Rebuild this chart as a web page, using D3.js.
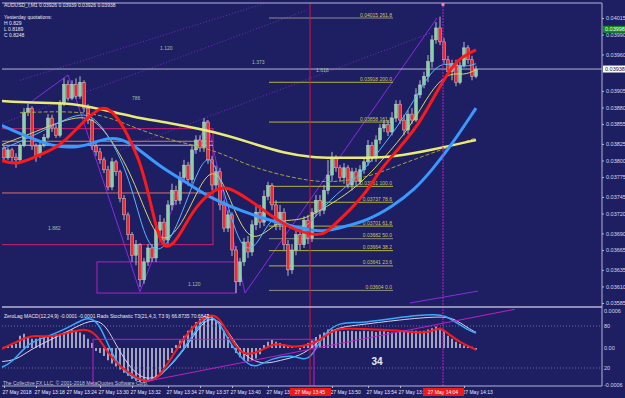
<!DOCTYPE html>
<html>
<head>
<meta charset="utf-8">
<script src="https://cdn.jsdelivr.net/npm/d3@7"></script>
<style>
body { margin: 0; background: #1e1e62; }
svg { display: block; font-family: "Liberation Sans", Arial, sans-serif; }
</style>
</head>
<body>
<div id="chart"></div>
<script>
// M1 candles, [open, high, low, close] in 1e-5 price units
const candles = [
  [3819,3822,3798,3804],[3804,3819,3801,3816],[3816,3819,3796,3805],[3805,3811,3789,3801],
  [3801,3826,3798,3823],[3823,3879,3820,3873],[3873,3885,3867,3879],[3879,3882,3816,3822],
  [3822,3826,3798,3808],[3808,3831,3804,3823],[3823,3840,3820,3835],[3835,3870,3832,3864],
  [3864,3869,3843,3849],[3849,3854,3834,3838],[3838,3891,3835,3887],[3887,3924,3882,3915],
  [3915,3921,3890,3894],[3894,3921,3891,3915],[3915,3924,3893,3897],[3897,3927,3893,3918],
  [3918,3921,3873,3879],[3879,3885,3855,3861],[3861,3864,3816,3822],[3822,3828,3807,3813],
  [3813,3819,3795,3801],[3801,3805,3781,3786],[3786,3792,3755,3760],[3760,3804,3755,3798],
  [3798,3801,3777,3783],[3783,3786,3737,3743],[3743,3748,3710,3718],[3718,3722,3680,3688],
  [3688,3692,3647,3657],[3657,3680,3642,3673],[3673,3675,3609,3620],[3620,3653,3614,3647],
  [3647,3674,3641,3668],[3668,3674,3647,3653],[3653,3701,3647,3695],[3695,3718,3686,3707],
  [3707,3713,3673,3680],[3680,3740,3674,3733],[3733,3765,3725,3755],[3755,3762,3733,3740],
  [3740,3783,3734,3774],[3774,3801,3768,3793],[3793,3798,3762,3771],[3771,3822,3765,3816],
  [3816,3838,3810,3831],[3831,3838,3813,3819],[3819,3864,3813,3858],[3858,3861,3795,3801],
  [3801,3807,3755,3763],[3763,3792,3755,3783],[3783,3789,3725,3733],[3733,3740,3692,3698],
  [3698,3725,3692,3718],[3718,3722,3656,3665],[3665,3671,3600,3617],[3617,3653,3611,3647],
  [3647,3683,3641,3677],[3677,3686,3653,3662],[3662,3710,3656,3703],[3703,3731,3695,3722],
  [3722,3733,3698,3707],[3707,3755,3701,3746],[3746,3768,3740,3762],[3762,3766,3725,3733],
  [3733,3740,3695,3703],[3703,3733,3695,3722],[3722,3728,3665,3673],[3673,3680,3626,3635],
  [3635,3674,3629,3665],[3665,3698,3657,3688],[3688,3695,3665,3673],[3673,3716,3668,3710],
  [3710,3718,3674,3683],[3683,3728,3677,3722],[3722,3748,3716,3740],[3740,3748,3716,3725],
  [3725,3763,3719,3755],[3755,3801,3749,3778],[3778,3813,3768,3804],[3804,3808,3783,3789],
  [3789,3793,3768,3774],[3774,3796,3765,3789],[3789,3793,3758,3763],[3763,3789,3755,3783],
  [3783,3789,3762,3768],[3768,3793,3763,3786],[3786,3804,3780,3798],[3798,3831,3792,3823],
  [3823,3828,3798,3804],[3804,3838,3798,3831],[3831,3855,3825,3849],[3849,3861,3843,3854],
  [3854,3861,3837,3843],[3843,3873,3838,3864],[3864,3891,3858,3885],[3885,3891,3855,3861],
  [3861,3869,3838,3846],[3846,3876,3840,3870],[3870,3879,3855,3861],[3861,3909,3858,3899],
  [3899,3921,3894,3914],[3914,3934,3909,3927],[3927,3959,3918,3949],[3949,3989,3940,3982],
  [3982,4009,3976,4000],[4000,4017,3974,3979],[3979,3985,3946,3952],[3952,3958,3927,3934],
  [3934,3952,3921,3946],[3946,3952,3912,3918],[3918,3949,3915,3943],[3943,3979,3940,3970],
  [3970,3974,3946,3952],[3952,3958,3921,3927],[3927,3943,3924,3938]
];

// moving averages, [bar index, price in 1e-5]
const maSlowYellow = [[-1,3890],[7,3887],[16,3887],[24,3878],[32,3866],[41,3857],[53,3843],[62,3826],[70,3811],[77,3805],[82,3804],[91,3804],[97,3805],[107,3816],[118,3831]];
const maDashed = [[4,3872],[22,3876],[32,3851],[41,3831],[53,3816],[61.5,3790],[74,3771],[82,3766],[91,3775],[97,3789],[109,3816],[118,3834]];
const maBlue = [[-1,3854],[11.5,3820],[19,3819],[24,3831],[28,3835],[32,3826],[39,3790],[46,3766],[51,3745],[61.5,3718],[74,3697],[80,3692],[85,3700],[91,3710],[97,3730],[103,3758],[107,3786],[111.5,3820],[118,3879]];
const maRed = [[-1,3801],[3,3793],[7,3804],[14,3820],[19,3854],[24,3881],[26.5,3879],[30,3851],[34,3801],[36.5,3740],[38.5,3688],[40,3668],[42,3672],[44,3688],[48,3733],[53,3758],[56,3761],[61.5,3740],[66.5,3718],[71.5,3698],[76.5,3688],[80,3688],[82,3700],[86.5,3725],[91,3755],[94,3786],[99,3820],[104,3857],[108,3902],[111.5,3937],[114,3955],[118,3967]];
const maFastCyan = [[-1,3816],[9,3841],[19,3876],[24,3861],[31,3786],[35,3683],[38.5,3656],[43,3692],[49,3798],[52,3808],[55,3755],[59,3665],[63,3665],[67,3722],[71.5,3701],[75,3692],[81.5,3743],[88,3771],[94,3816],[100,3864],[106.5,3934],[110,3949],[114.5,3940],[118,3946]];
const maFastYellow = [[-1,3823],[9,3846],[20,3873],[25,3849],[31.5,3786],[36.5,3703],[40,3672],[45,3707],[50,3778],[53.5,3786],[57,3733],[61,3680],[65,3688],[69.5,3713],[74,3707],[81.5,3733],[89,3763],[95,3804],[101.5,3849],[107,3909],[111.5,3934],[115,3928],[118,3937]];

// zigzag / trend lines, [bar index, price in 1e-5]
const zigzag = [[5.75,3884],[16,3929],[34,3602],[50.75,3861],[60.25,3600],[108.25,4015]];
const bottomTrend = [[101.5,3585],[118.5,3603]];
const fanLines = [
  [[-1,3855],[75.75,4027]],
  [[4,3921],[67.75,4042]],
  [[29,3816],[106.5,3992]]
];

// boxes drawn on the chart, [bar index from, bar index to, price top, price bottom]
const boxA = [-1, 52.25, 3848, 3673];
const boxB = [23.25, 58, 3647, 3600];
const boxLines = [[3829, "#e0803c"], [3823, "#b4b4d4"], [3751, "#e07060"]];

// fibonacci retracement
const fibLevels = ["261.8","200.0","161.8","100.0","78.6","61.8","50.0","38.2","23.6","0.0"];
const fibPrices = [4015,3918,3858,3761,3737,3701,3682,3664,3641,3604];
const fibGray = ["261.8","50.0","0.0"];
const fibRange = [66.25, 97.25];

// fan labels [bar index, price in 1e-5]
const fanLabels = ["1.120","1.373","1.618","786","1.882","1.120"];
const fanPos = [[39,3967],[62,3946],[78,3934],[32,3891],[11,3695],[46,3611]];

// price axis
const priceTicks = [4015,3990,3960,3905,3880,3855,3825,3800,3775,3745,3720,3690,3665,3635,3610,3585];
const bidPrice = 3938;
const greenTag = 3998;

// time axis
const timeTickIdx = [0,8,16,24,32,41,49,57,66,82,91,99,115];
const timeLabels = ["27 May 2018","27 May 13:18","27 May 13:24","27 May 13:30","27 May 13:32","27 May 13:34","27 May 13:37","27 May 13:40","27 May 13:43","27 May 13:50","27 May 13:54","27 May 13:57","27 May 14:13"];
const vLines = [76.5, 109.75];
const vLineLabels = ["27 May 13:45","27 May 14:04"];

// indicator window
const macdHist = [2,4,5,7,20,23,17,15,15,17,17,18,20,22,23,25,27,30,28,25,22,15,8,
  -5,-8,-13,-20,-25,-30,-35,-40,-45,-50,-53,-55,-56,-54,-52,-47,-40,-33,-20,-8,
  5,12,20,28,35,42,48,52,55,52,45,38,28,18,5,
  -8,-15,-20,-22,-20,-17,-10,
  5,10,13,10,8,6,4,2,0,-3,3,8,12,18,22,25,30,30,28,27,27,28,28,27,27,28,27,27,26,27,27,26,25,25,26,27,27,28,28,27,28,30,32,35,33,28,20,15,10,7,4,3,2,-3];
const stochRed = [[-1,46],[4,60],[7,67],[11.5,64],[16,70],[20,77],[23,70],[26,41],[29,21],[34,3],[36,0],[39,7],[43,46],[47,79],[51.5,99],[54,91],[56.5,64],[59,41],[62,39],[66,50],[68,56],[72,49],[76.5,53],[79,60],[81.5,71],[84,77],[89,76],[99,74],[103,70],[106.5,71],[109,79],[111.5,67],[114,57],[116.5,50],[118,46]];
const macdBlue = [[-1,20],[2,27],[6,56],[10,63],[16,77],[20,91],[22,91],[24,81],[26.5,46],[29,21],[32,6],[36,0],[39,7],[45,46],[49,84],[51.5,96],[54,84],[57,50],[61,24],[63,21],[67,34],[72,39],[75,31],[77,36],[80,70],[84,86],[89,84],[97,91],[109,99],[112,89],[116,74],[118,70]];
const macdSignal = [[-1,29],[3,31],[6.5,46],[11.5,60],[16.5,74],[21.5,89],[25,86],[28,53],[31,24],[35,1],[40,10],[46,53],[50,89],[53,91],[56,74],[59.5,39],[64.5,24],[69,31],[74,37],[78,53],[82,77],[88,81],[99,89],[109,94],[112.5,91],[116,77],[118,71]];
const indTrend = [[34.75,0],[127.75,104]];
const indBox = [[22.25,61],[77.5,-6]];
const indTicks = ["0.0006","80","0.00","20","-0.0006"];
const indTickVals = [0.0006, 80, 0, 20, -0.0006];

const W = 625, H = 398;
const svg = d3.select("#chart").append("svg").attr("width", W).attr("height", H);

const pad = {left: 2, right: 602, top: 3, mainBottom: 305, indTop: 309, indBottom: 386};
const x = d3.scaleLinear().domain([0, 118]).range([4, 476]);
const y = d3.scaleLinear().domain([0.03585, 0.04015]).range([303, 18]);
const yS = d3.scaleLinear().domain([0, 100]).range([382, 312]);
const yM = d3.scaleLinear().domain([-0.0006, 0.0006]).range([385, 311]);
const P = v => v / 1e5;
const FS = "5px";

const defs = svg.append("defs");
defs.append("clipPath").attr("id", "clipMain").append("rect")
  .attr("x", pad.left).attr("y", pad.top).attr("width", pad.right - pad.left).attr("height", pad.mainBottom - pad.top);
defs.append("clipPath").attr("id", "clipInd").append("rect")
  .attr("x", pad.left).attr("y", pad.indTop).attr("width", pad.right - pad.left).attr("height", pad.indBottom - pad.indTop);

svg.append("rect").attr("width", W).attr("height", H).attr("fill", "#1e1e62");

const main = svg.append("g").attr("clip-path", "url(#clipMain)");
const ind = svg.append("g").attr("clip-path", "url(#clipInd)");

const line = d3.line().x(d => x(d[0])).y(d => y(P(d[1]))).curve(d3.curveBasis);
const straight = d3.line().x(d => x(d[0])).y(d => y(P(d[1])));

// fan lines (dotted) and zigzag
fanLines.forEach(f => {
  main.append("path").datum(f).attr("d", straight)
    .attr("fill", "none").attr("stroke", "#7a28c8").attr("stroke-width", 1).attr("stroke-dasharray", "1,2");
});
main.append("path").datum(zigzag).attr("d", straight)
  .attr("fill", "none").attr("stroke", "#8a2be2").attr("stroke-width", 1);
main.append("path").datum(bottomTrend).attr("d", straight)
  .attr("fill", "none").attr("stroke", "#8a2be2").attr("stroke-width", 1);

// boxes
const box = (b, c) => main.append("rect")
  .attr("x", x(b[0])).attr("y", y(P(b[2])))
  .attr("width", x(b[1]) - x(b[0])).attr("height", y(P(b[3])) - y(P(b[2])))
  .attr("fill", "none").attr("stroke", c).attr("stroke-width", 1);
box(boxA, "#d02070");
box(boxB, "#b020c0");
boxLines.forEach(([p, c]) => {
  main.append("line").attr("x1", x(boxA[0])).attr("x2", x(boxA[1]))
    .attr("y1", y(P(p))).attr("y2", y(P(p))).attr("stroke", c).attr("stroke-width", 1);
});

main.selectAll(".fan").data(fanLabels).join("text")
  .attr("x", (d, i) => x(fanPos[i][0])).attr("y", (d, i) => y(P(fanPos[i][1])))
  .attr("fill", "#9fc29f").style("font-size", FS).text(d => d);

// fibonacci
const fib = main.append("g");
fibLevels.forEach((lv, i) => {
  const c = fibGray.includes(lv) ? "#8c8c8c" : "#b4b43c";
  fib.append("line")
    .attr("x1", x(fibRange[0])).attr("x2", x(fibRange[1]))
    .attr("y1", y(P(fibPrices[i]))).attr("y2", y(P(fibPrices[i])))
    .attr("stroke", c).attr("stroke-width", 1);
  fib.append("text")
    .attr("x", x(fibRange[1]) - 1).attr("y", y(P(fibPrices[i])) - 1.5)
    .attr("text-anchor", "end").attr("fill", "#c8c860").style("font-size", FS)
    .text(`0.0${fibPrices[i]} ${lv}`);
});

// bid line
main.append("line").attr("x1", pad.left).attr("x2", pad.right)
  .attr("y1", y(P(bidPrice))).attr("y2", y(P(bidPrice)))
  .attr("stroke", "#b4b4d4").attr("stroke-width", 1);

// moving averages
const maStyles = [
  [maDashed, "#a4a43c", 1, "4,2"],
  [maFastYellow, "#d8d864", 1, null],
  [maFastCyan, "#5ab8ff", 1, null],
  [maSlowYellow, "#eaea78", 2.5, null],
  [maBlue, "#3899ff", 3, null],
  [maRed, "#ff1818", 3, null]
];

// candles
const cw = 3;
const cg = main.append("g");
cg.selectAll("line").data(candles).join("line")
  .attr("x1", (d, i) => x(i)).attr("x2", (d, i) => x(i))
  .attr("y1", d => y(P(d[1]))).attr("y2", d => y(P(d[2])))
  .attr("stroke", "#b8b8cc").attr("stroke-width", 1);
cg.selectAll("rect").data(candles).join("rect")
  .attr("x", (d, i) => x(i) - cw / 2)
  .attr("y", d => y(P(Math.max(d[0], d[3]))))
  .attr("width", cw)
  .attr("height", d => Math.max(1, Math.abs(y(P(d[0])) - y(P(d[3])))))
  .attr("fill", d => d[3] >= d[0] ? "#86d4a0" : "#ff2424")
  .attr("stroke", "#c8c8d8").attr("stroke-width", 0.5);

maStyles.forEach(([data, c, w, dash]) => {
  main.append("path").datum(data).attr("d", line)
    .attr("fill", "none").attr("stroke", c).attr("stroke-width", w)
    .attr("stroke-dasharray", dash);
});

// vertical lines
svg.append("line").attr("x1", x(vLines[0])).attr("x2", x(vLines[0]))
  .attr("y1", pad.top).attr("y2", pad.indBottom).attr("stroke", "#e0103c").attr("stroke-width", 1);
svg.append("line").attr("x1", x(vLines[1])).attr("x2", x(vLines[1]))
  .attr("y1", pad.top).attr("y2", pad.indBottom).attr("stroke", "#c020c0").attr("stroke-width", 1)
  .attr("stroke-dasharray", "2,1");
svg.append("rect").attr("x", x(vLines[1]) - 1.5).attr("y", 3).attr("width", 3).attr("height", 3).attr("fill", "#ff8080");

// frame
svg.append("line").attr("x1", pad.left).attr("x2", pad.right).attr("y1", pad.top).attr("y2", pad.top).attr("stroke", "#b4b4d4");
svg.append("line").attr("x1", pad.left).attr("x2", pad.right).attr("y1", 307).attr("y2", 307).attr("stroke", "#b4b4d4").attr("stroke-width", 1.5);
svg.append("line").attr("x1", pad.left).attr("x2", pad.right).attr("y1", pad.indBottom).attr("y2", pad.indBottom).attr("stroke", "#b4b4d4");

// header
const hdr = ["AUDUSD_f,M1  0.03926 0.03939 0.03926 0.03938", "", "Yesterday quotations:", "H 0.829", "L 0.8189", "C 0.8248"];
svg.selectAll(".hdr").data(hdr).join("text")
  .attr("x", 4).attr("y", (d, i) => 7 + i * 6)
  .attr("fill", "#e8e8f0").style("font-size", FS).text(d => d);

// price axis
const ay = svg.append("g").attr("transform", `translate(${pad.right},0)`)
  .call(d3.axisRight(y).tickValues(priceTicks.map(P)).tickFormat(d3.format(".5f")).tickSize(2).tickPadding(2));
ay.select(".domain").attr("stroke", "#b4b4d4").attr("d", `M0,${pad.top}V${pad.indBottom}`);
ay.selectAll("line").attr("stroke", "#b4b4d4");
ay.selectAll("text").attr("fill", "#d8d8e8").style("font-size", "5.5px").style("font-family", "Liberation Sans");

const tag = (price, bg, fg) => {
  const g = svg.append("g").attr("transform", `translate(${pad.right + 1},${y(P(price))})`);
  g.append("rect").attr("x", 0).attr("y", -3.5).attr("width", 22).attr("height", 7).attr("fill", bg);
  g.append("text").attr("x", 2).attr("y", 2).attr("fill", fg).style("font-size", "5.5px").text(`0.0${price}`);
};
tag(greenTag, "#0c8c1c", "#ffffff");
tag(bidPrice, "#ffffff", "#101030");

// indicator
ind.selectAll("line.h").data(macdHist).join("line")
  .attr("x1", (d, i) => x(i)).attr("x2", (d, i) => x(i))
  .attr("y1", yM(0)).attr("y2", d => yM(d / 1e5))
  .attr("stroke", "#c4c4d8").attr("stroke-width", 1.6);

[20, 80].forEach(v => {
  ind.append("line").attr("x1", pad.left).attr("x2", pad.right)
    .attr("y1", yS(v)).attr("y2", yS(v)).attr("stroke", "#6c6ca8").attr("stroke-dasharray", "1,2");
});

const sline = d3.line().x(d => x(d[0])).y(d => yS(d[1])).curve(d3.curveBasis);
ind.append("path").datum(macdSignal).attr("d", sline).attr("fill", "none").attr("stroke", "#d4d4f4").attr("stroke-width", 1);
ind.append("path").datum(macdBlue).attr("d", sline).attr("fill", "none").attr("stroke", "#38acff").attr("stroke-width", 1.5);
ind.append("path").datum(stochRed).attr("d", sline).attr("fill", "none").attr("stroke", "#ff1818").attr("stroke-width", 2);

ind.append("path").datum(indTrend).attr("d", d3.line().x(d => x(d[0])).y(d => yS(d[1])))
  .attr("stroke", "#c020c0").attr("fill", "none");
ind.append("rect")
  .attr("x", x(indBox[0][0])).attr("y", yS(indBox[0][1]))
  .attr("width", x(indBox[1][0]) - x(indBox[0][0])).attr("height", yS(indBox[1][1]) - yS(indBox[0][1]))
  .attr("fill", "none").attr("stroke", "#c020c0");

svg.append("text").attr("x", 4).attr("y", 318).attr("fill", "#e8e8f0").style("font-size", FS)
  .text("ZeroLag MACD(12,24,9) -0.0001 -0.0001  Rads Stochastic T3(21,4,3, T3 9) 66.8735 70.6842");
svg.append("text").attr("x", 377).attr("y", 365).attr("text-anchor", "middle")
  .attr("fill", "#e8e8f0").style("font-size", "10px").style("font-weight", "bold").text("34");
svg.append("text").attr("x", 3).attr("y", 385).attr("fill", "#c8c8d8").style("font-size", FS)
  .text("The Collective FX LLC, © 2001-2018 MetaQuotes Software Corp.");

svg.selectAll(".it").data(indTicks).join("text")
  .attr("x", 604).attr("y", (d, i) => (i === 0 || i === 4 ? yM(indTickVals[i]) : i === 2 ? yM(0) : yS(indTickVals[i])) + 2)
  .attr("fill", "#d8d8e8").style("font-size", "5.5px").text(d => d);

// time axis
const ax = svg.append("g").attr("transform", `translate(0,${pad.indBottom})`)
  .call(d3.axisBottom(x).tickValues(timeTickIdx).tickFormat((d, i) => timeLabels[i]).tickSize(2).tickPadding(2));
ax.select(".domain").remove();
ax.selectAll("line").attr("stroke", "#b4b4d4");
ax.selectAll("text").attr("fill", "#e8e8f0").attr("text-anchor", "start").attr("dx", -2)
  .style("font-size", FS).style("font-family", "Liberation Sans");

vLines.forEach((v, i) => {
  svg.append("rect").attr("x", x(v) - 20).attr("y", pad.indBottom + 2).attr("width", 41).attr("height", 8).attr("fill", "#f01818");
  svg.append("text").attr("x", x(v)).attr("y", pad.indBottom + 8).attr("text-anchor", "middle")
    .attr("fill", "#ffffff").style("font-size", FS).text(vLineLabels[i]);
});
</script>
</body>
</html>
